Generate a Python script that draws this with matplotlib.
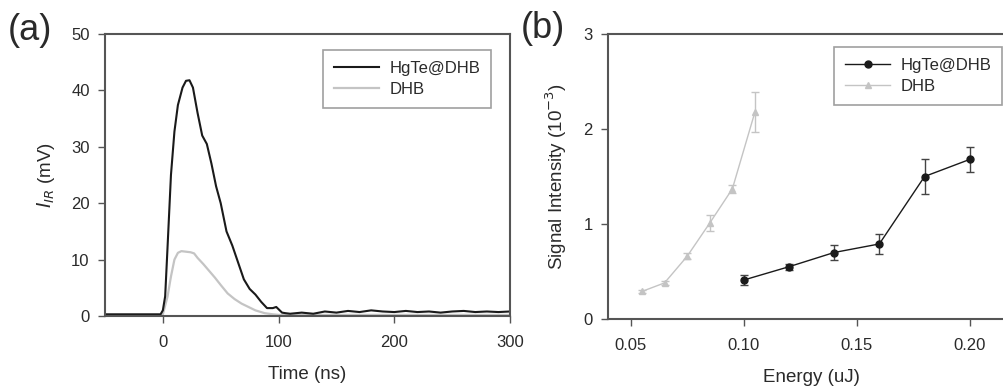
import numpy as np
import matplotlib.pyplot as plt

plt.rcParams['font.family'] = ['Liberation Sans', 'DejaVu Sans']

# panel (a): transient signal
t_hg = [-50, -40, -30, -20, -10, -2, 0, 2, 4, 7, 10, 13, 17, 20, 23, 26, 30, 34, 38,
        42, 46, 50, 55, 60, 65, 70, 75, 80, 85, 90, 95, 98, 100, 103, 106, 110, 120,
        130, 140, 150, 160, 170, 180, 190, 200, 210, 220, 230, 240, 250, 260, 270,
        280, 290, 300]
i_hg = [0.3, 0.3, 0.3, 0.3, 0.3, 0.3, 1.0, 3.5, 12, 25, 32.7, 37.4, 40.5, 41.7, 41.8,
        40.5, 36, 32, 30.5, 27, 23, 20, 15, 12.5, 9.5, 6.5, 4.8, 3.8, 2.5, 1.4, 1.4,
        1.6, 1.2, 0.6, 0.5, 0.4, 0.6, 0.4, 0.8, 0.6, 0.9, 0.7, 1.0, 0.8, 0.7, 0.9,
        0.7, 0.8, 0.6, 0.8, 0.9, 0.7, 0.8, 0.7, 0.8]

t_dhb = [-50, -30, -10, -2, 0, 4, 7, 10, 13, 16, 20, 24, 27, 30, 35, 40, 45, 50, 56,
         62, 68, 73, 80, 88, 95, 100, 150, 200, 250, 300]
i_dhb = [0.1, 0.1, 0.1, 0.1, 0.3, 3.4, 7, 10, 11.2, 11.5, 11.4, 11.3, 11.1, 10.3,
         9.2, 8, 6.8, 5.5, 4.0, 3.0, 2.2, 1.7, 1.0, 0.5, 0.3, 0.2, 0.2, 0.2, 0.2, 0.2]

# panel (b): signal intensity vs energy
e_hg = [0.10, 0.12, 0.14, 0.16, 0.18, 0.20]
s_hg = [0.41, 0.55, 0.70, 0.79, 1.50, 1.68]
err_hg = [0.05, 0.03, 0.08, 0.11, 0.18, 0.13]

e_dhb = [0.055, 0.065, 0.075, 0.085, 0.095, 0.105]
s_dhb = [0.29, 0.38, 0.66, 1.01, 1.37, 2.18]
err_dhb = [0.02, 0.02, 0.03, 0.08, 0.04, 0.21]

W, H = 1004, 387
fig = plt.figure(figsize=(W / 100, H / 100), dpi=100)

txt = '#2a2a2a'
spine_c = '#555555'
gray = '#c4c4c4'


def style(ax):
    for s in ax.spines.values():
        s.set_linewidth(1.5)
        s.set_color(spine_c)
    ax.tick_params(direction='out', length=5, width=1, color=spine_c,
                   labelsize=12, labelcolor=txt, top=False, right=False)
    ax.tick_params(axis='x', pad=9)
    ax.tick_params(axis='y', pad=6)


def legend(ax, handles, labels, anchor):
    leg = ax.legend(handles, labels, loc='upper right', bbox_to_anchor=anchor,
                    fontsize=12, frameon=True, fancybox=False, handlelength=2.7,
                    labelspacing=0.35, borderpad=0.65, handletextpad=0.6,
                    borderaxespad=0, labelcolor=txt)
    leg.get_frame().set_edgecolor('#888888')
    leg.get_frame().set_linewidth(1.2)
    return leg


ax1 = fig.add_axes([105 / W, 1 - 316 / H, (510 - 105) / W, (316 - 34) / H])
l_dhb, = ax1.plot(t_dhb, i_dhb, color=gray, lw=1.6, label='DHB')
l_hg, = ax1.plot(t_hg, i_hg, color='#1a1a1a', lw=1.5, label='HgTe@DHB')
ax1.set_xlim(-50, 300)
ax1.set_ylim(0, 50)
ax1.set_xticks([0, 100, 200, 300])
ax1.set_yticks([0, 10, 20, 30, 40, 50])
style(ax1)
ax1.set_xlabel('Time (ns)', fontsize=13.5, color=txt, labelpad=11)
ax1.set_ylabel(r'$I_{IR}$ (mV)', fontsize=13.5, color=txt, labelpad=10)
legend(ax1, [l_hg, l_dhb], ['HgTe@DHB', 'DHB'], ((491 - 105) / 405, (316 - 50) / 282))

ax2 = fig.add_axes([608 / W, 1 - 319 / H, (1015 - 608) / W, (319 - 34) / H])
eb_dhb = ax2.errorbar(e_dhb, s_dhb, yerr=err_dhb, color=gray, lw=1, marker='^', ms=4,
                      capsize=3, elinewidth=1)
eb_hg = ax2.errorbar(e_hg, s_hg, yerr=err_hg, color='#1a1a1a', lw=1, marker='o', ms=5,
                     capsize=3, elinewidth=1, ecolor='#444444')
ax2.set_xlim(0.04, 0.22)
ax2.set_ylim(0, 3)
ax2.set_xticks([0.05, 0.10, 0.15, 0.20])
ax2.set_xticklabels(['0.05', '0.10', '0.15', '0.20'])
ax2.set_yticks([0, 1, 2, 3])
style(ax2)
ax2.set_xlabel('Energy (uJ)', fontsize=13.5, color=txt, labelpad=11)
ax2.set_ylabel(r'Signal Intensity (10$^{-3}$)', fontsize=13.5, color=txt, labelpad=10)
legend(ax2, [eb_hg[0], eb_dhb[0]], ['HgTe@DHB', 'DHB'],
       ((1002 - 608) / 407, (319 - 47) / 285))

fig.text(30 / W, 1 - 31 / H, '(a)', fontsize=26, color=txt, ha='center', va='center')
fig.text(543 / W, 1 - 28 / H, '(b)', fontsize=26, color=txt, ha='center', va='center')

fig.savefig('out.png', dpi=100)
